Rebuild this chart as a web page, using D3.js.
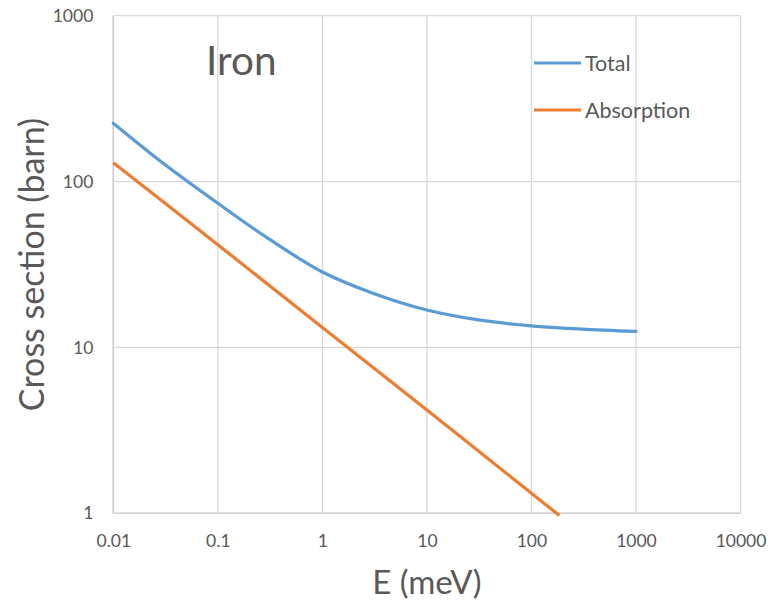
<!DOCTYPE html>
<html>
<head>
<meta charset="utf-8">
<script src="https://cdn.jsdelivr.net/npm/d3@7"></script>
<style>
  html, body { margin: 0; padding: 0; background: #fff; }
  svg { display: block; }
  text { font-family: Lato, "Open Sans", sans-serif; fill: #595959; }
</style>
</head>
<body>
<svg id="chart" width="782" height="603"></svg>
<script>
// ---- data ----
const totalE      = [0.01, 0.03, 0.1, 0.3, 1, 3, 10, 30, 100, 300, 1000];
const totalSigma  = [225, 129, 74, 45.6, 28.5, 21.3, 16.8, 14.7, 13.5, 12.9, 12.5];
const absorbE     = [0.01, 0.1, 1, 10, 100, 185];
const absorbSigma = [130, 41.6, 13.2, 4.2, 1.32, 0.97];
const xTicks = [0.01, 0.1, 1, 10, 100, 1000, 10000];
const yTicks = [1, 10, 100, 1000];
const seriesNames = ["Total", "Absorption"];
const seriesColors = ["#5B9BD5", "#ED7D31"];

(function () {
const svg = d3.select("#chart");
const pL = 113.3, pR = 740.5, pT = 15.7, pB = 513.3;

const x = d3.scaleLog().domain([0.01, 10000]).range([pL, pR]);
const y = d3.scaleLog().domain([1, 1000]).range([pB, pT]);

// gridlines
const grid = svg.append("g");
grid.selectAll("line.v").data(xTicks).enter().append("line")
  .attr("x1", d => x(d)).attr("x2", d => x(d))
  .attr("y1", pT).attr("y2", pB)
  .attr("stroke", "#d9d9d9").attr("stroke-width", 1.3);
grid.selectAll("line.h").data(yTicks).enter().append("line")
  .attr("x1", pL).attr("x2", pR)
  .attr("y1", d => y(d)).attr("y2", d => y(d))
  .attr("stroke", "#d9d9d9").attr("stroke-width", 1.3);
// axis lines
svg.append("line").attr("x1", pL).attr("x2", pR).attr("y1", pB).attr("y2", pB)
  .attr("stroke", "#cfcfcf").attr("stroke-width", 1.5);
svg.append("line").attr("x1", pL).attr("x2", pL).attr("y1", pT).attr("y2", pB)
  .attr("stroke", "#cfcfcf").attr("stroke-width", 1.5);

// axes tick labels via d3 axes
const fmt = d => String(d);
const xAxis = d3.axisBottom(x).tickValues(xTicks).tickFormat(fmt).tickSize(0).tickPadding(0);
const gx = svg.append("g").attr("transform", `translate(0,${pB})`).call(xAxis);
gx.select(".domain").remove();
gx.selectAll("text").attr("dy", null).attr("y", 34).style("font-size", "17.5px")
  .style("font-family", "Lato, 'Open Sans', sans-serif").attr("fill", "#595959");

const yAxis = d3.axisLeft(y).tickValues(yTicks).tickFormat(fmt).tickSize(0).tickPadding(20);
const gy = svg.append("g").attr("transform", `translate(${pL},0)`).call(yAxis);
gy.select(".domain").remove();
gy.selectAll("text").style("font-size", "17.5px")
  .style("font-family", "Lato, 'Open Sans', sans-serif").attr("fill", "#595959");

// lines
const line = d3.line().x(d => x(d[0])).y(d => y(d[1])).curve(d3.curveCatmullRom.alpha(0.5));
const totalData = totalE.map((e, i) => [e, totalSigma[i]]);
const absData = absorbE.map((e, i) => [e, absorbSigma[i]]);
svg.append("path").datum(totalData).attr("d", line).attr("fill", "none")
  .attr("stroke", seriesColors[0]).attr("stroke-width", 3.2).attr("stroke-linecap", "round");
svg.append("path").datum(absData).attr("d", line).attr("fill", "none")
  .attr("stroke", seriesColors[1]).attr("stroke-width", 3.2).attr("stroke-linecap", "butt");

// title in plot
svg.append("text").attr("x", 206).attr("y", 75).style("font-size", "40.5px").text("Iron");

// legend
const legY = [63, 110];
seriesNames.forEach((name, i) => {
  svg.append("line").attr("x1", 534).attr("x2", 581).attr("y1", legY[i]).attr("y2", legY[i])
    .attr("stroke", seriesColors[i]).attr("stroke-width", 3.2);
  svg.append("text").attr("x", 585).attr("y", legY[i]).attr("dy", "0.36em")
    .style("font-size", "21.5px").text(name);
});

// axis titles
svg.append("text").attr("x", (pL + pR) / 2).attr("y", 594).attr("text-anchor", "middle")
  .style("font-size", "33px").text("E (meV)");
svg.append("text").attr("transform", `translate(43.5,${(pT + pB) / 2}) rotate(-90)`)
  .attr("text-anchor", "middle").style("font-size", "34px").text("Cross section (barn)");
})();
</script>
</body>
</html>
